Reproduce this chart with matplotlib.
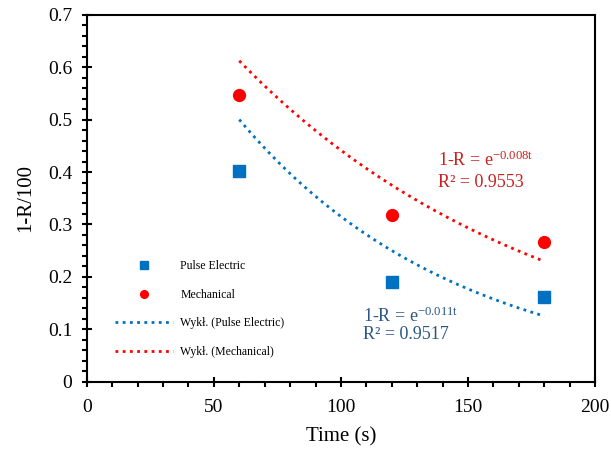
import numpy as np
import matplotlib.pyplot as plt
from matplotlib.ticker import MultipleLocator

# data
time_s = np.array([60, 120, 180])
pulse_electric = np.array([0.402, 0.191, 0.161])
mechanical = np.array([0.547, 0.318, 0.266])

pulse_label = 'Pulse Electric'
mech_label = 'Mechanical'
pulse_eq = ('1-R = e$^{\\mathrm{-0.011t}}$', 'R\u00b2 = 0.9517')
mech_eq = ('1-R = e$^{\\mathrm{-0.008t}}$', 'R\u00b2 = 0.9553')

blue = '#0070C0'
red = '#FF0000'

plt.rcParams['font.family'] = ['Liberation Serif', 'DejaVu Serif']
plt.rcParams['mathtext.fontset'] = 'custom'
plt.rcParams['mathtext.rm'] = 'Liberation Serif'
plt.rcParams['mathtext.it'] = 'Liberation Serif:italic'


def exp_fit_fixed_intercept(t, y):
    # exponential trendline with intercept fixed at 1 (y = exp(-b t))
    b = -np.sum(t * np.log(y)) / np.sum(t * t)
    return b


fig = plt.figure(figsize=(6.11, 4.5), dpi=100)
ax = fig.add_axes([0.142, 0.152, 0.832, 0.815])

t_curve = np.linspace(time_s.min(), time_s.max(), 200)
b_pulse = exp_fit_fixed_intercept(time_s, pulse_electric)
b_mech = exp_fit_fixed_intercept(time_s, mechanical)

ax.plot(time_s, pulse_electric, 's', color=blue, markersize=8.5, label=pulse_label, zorder=3)
ax.plot(time_s, mechanical, 'o', color=red, markersize=8.5, label=mech_label, zorder=3)
ax.plot(t_curve, np.exp(-b_pulse * t_curve), linestyle=(0, (1, 1.6)), color=blue,
        linewidth=2, label='Wykł. (Pulse Electric)')
ax.plot(t_curve, np.exp(-b_mech * t_curve), linestyle=(0, (1, 1.6)), color=red,
        linewidth=2, label='Wykł. (Mechanical)')

ax.text(138, 0.422, mech_eq[0], color='#C8201E', fontsize=13, va='center')
ax.text(138, 0.380, mech_eq[1], color='#C8201E', fontsize=13, va='center')
ax.text(108.5, 0.124, pulse_eq[0], color='#2A5783', fontsize=13, va='center')
ax.text(108.5, 0.090, pulse_eq[1], color='#2A5783', fontsize=13, va='center')

ax.set_xlim(0, 200)
ax.set_ylim(0, 0.7)
ax.xaxis.set_major_locator(MultipleLocator(50))
ax.xaxis.set_minor_locator(MultipleLocator(10))
ax.yaxis.set_major_locator(MultipleLocator(0.1))
ax.yaxis.set_minor_locator(MultipleLocator(0.02))
ax.yaxis.set_major_formatter(plt.FuncFormatter(lambda v, p: '0' if v == 0 else '{:g}'.format(round(v, 2))))

ax.tick_params(which='major', direction='inout', length=7, width=1.5, labelsize=14)
ax.tick_params(which='minor', direction='out', length=3.5, width=1.5)
ax.tick_params(axis='x', which='major', pad=9)
ax.tick_params(axis='y', which='major', pad=7)
for side in ax.spines.values():
    side.set_linewidth(1.5)

ax.set_xlabel('Time (s)', fontsize=15, labelpad=8)
ax.set_ylabel('1-R/100', fontsize=15, labelpad=9)

ax.legend(loc='upper left', bbox_to_anchor=(0.035, 0.36), frameon=False, fontsize=8.5,
          markerscale=0.65, handlelength=4.9, handletextpad=0.6, labelspacing=1.4)

plt.savefig('out.png', dpi=100)
